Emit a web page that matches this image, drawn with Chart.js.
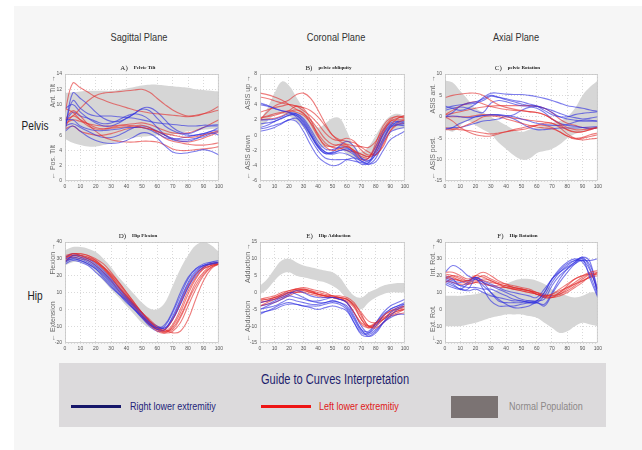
<!DOCTYPE html>
<html>
<head>
<meta charset="utf-8">
<script src="https://cdn.jsdelivr.net/npm/chart.js@4/dist/chart.umd.min.js"></script>
<style>
  html, body { margin: 0; padding: 0; background: #fff; }
  #page { position: relative; width: 642px; height: 450px; overflow: hidden; background: #fff;
          font-family: "Liberation Sans", Arial, sans-serif; }
  #sheet { position: absolute; left: 14px; top: 6px; right: 0; bottom: 0; background: #f6f6f6; }
  .lbl { position: absolute; white-space: nowrap; transform: translate(-50%, -50%) scaleX(0.84); }
  .col { font-size: 11px; color: #333; top: 37px; }
  .row { font-size: 12px; color: #222; }
  canvas { position: absolute; }
  #guide { position: absolute; left: 59px; top: 363px; width: 547px; height: 64px; background: #dcdadc; }
  #guideTitle { position: absolute; left: 335px; top: 379px; font-size: 14px; color: #1e1e6e;
                transform: translate(-50%, -50%) scaleX(0.79); }
  .swatch { position: absolute; height: 3px; }
  .item { position: absolute; top: 406px; font-size: 11.5px; white-space: nowrap;
          transform-origin: 0 50%; transform: translateY(-50%) scaleX(0.78); }
</style>
</head>
<body>
<div id="page">
  <div id="sheet"></div>
  <div class="lbl col" style="left:139px">Sagittal Plane</div>
  <div class="lbl col" style="left:336px">Coronal Plane</div>
  <div class="lbl col" style="left:516px">Axial Plane</div>
  <div class="lbl row" style="left:35px; top:126px">Pelvis</div>
  <div class="lbl row" style="left:35px; top:296px">Hip</div>

  <canvas id="cA"></canvas>
  <canvas id="cB"></canvas>
  <canvas id="cC"></canvas>
  <canvas id="cD"></canvas>
  <canvas id="cE"></canvas>
  <canvas id="cF"></canvas>

  <div id="guide"></div>
  <div id="guideTitle">Guide to Curves Interpretation</div>
  <div class="swatch" style="left:71px; top:405px; width:50px; background:#16166a"></div>
  <div class="item" style="left:130px; color:#23237a">Right lower extremitiy</div>
  <div class="swatch" style="left:261px; top:405px; width:50px; background:#ee1515"></div>
  <div class="item" style="left:319px; color:#e01818">Left lower extremitiy</div>
  <div style="position:absolute; left:451px; top:396px; width:47px; height:22px; background:#7b7373"></div>
  <div class="item" style="left:509px; color:#8c8888">Normal Population</div>
</div>

<script>
// Percent of gait cycle at which every curve is sampled
const xPct = [0, 5, 10, 15, 20, 25, 30, 35, 40, 45, 50, 55, 60, 65, 70, 75, 80, 85, 90, 95, 100];

// ---- A) Pelvic tilt (deg) ----
const tiltNormHigh = [11.5, 11.6, 11.7, 11.8, 11.8, 11.8, 11.8, 11.9, 12.1, 12.3, 12.5, 12.6, 12.6, 12.5, 12.4, 12.3, 12.2, 12.0, 11.9, 11.8, 11.7];
const tiltNormLow  = [5.5, 5.0, 4.7, 4.5, 4.5, 4.7, 4.9, 5.2, 5.5, 5.7, 5.8, 5.9, 6.0, 6.0, 6.1, 6.3, 6.5, 6.6, 6.7, 6.8, 6.9];
const tiltRight = [
  [6.5, 11.5, 10.8, 10.0, 9.0, 8.2, 7.8, 7.8, 8.2, 8.8, 9.4, 9.2, 8.2, 7.2, 6.6, 6.2, 6.0, 6.0, 6.2, 6.5, 7.0],
  [7.0, 10.5, 9.5, 8.8, 8.5, 8.5, 8.5, 8.4, 8.3, 8.2, 8.0, 7.8, 7.6, 7.5, 7.4, 7.3, 7.2, 7.2, 7.3, 7.3, 7.4],
  [9.5, 10.0, 9.0, 8.2, 7.6, 7.2, 7.2, 7.6, 8.2, 8.8, 9.5, 9.6, 9.0, 8.0, 7.0, 6.4, 6.2, 6.5, 7.0, 7.2, 7.2],
  [8.0, 8.0, 7.2, 6.8, 6.6, 6.6, 6.7, 6.8, 7.0, 7.0, 7.0, 6.7, 6.2, 5.7, 5.5, 5.6, 5.8, 6.0, 6.2, 6.5, 6.7],
  [6.5, 7.2, 6.5, 5.8, 5.3, 5.0, 4.9, 5.0, 5.3, 5.8, 6.3, 6.2, 5.6, 4.6, 3.8, 3.6, 3.7, 3.9, 4.1, 3.9, 3.4],
  [7.5, 9.0, 8.5, 8.2, 7.8, 7.5, 7.6, 8.0, 8.5, 8.8, 8.6, 8.0, 7.0, 6.0, 5.4, 5.2, 5.2, 5.5, 6.0, 6.3, 6.0],
  [7.2, 7.5, 7.0, 6.5, 6.0, 5.7, 5.7, 6.0, 6.5, 7.0, 7.2, 7.0, 6.5, 6.0, 5.6, 5.4, 5.4, 5.6, 5.8, 6.2, 6.5]
];
const tiltLeft = [
  [9.0, 12.8, 12.2, 11.6, 11.0, 10.6, 10.2, 9.9, 9.6, 9.3, 9.1, 8.9, 8.8, 8.7, 8.6, 8.5, 8.4, 8.5, 8.8, 9.2, 9.8],
  [8.0, 8.5, 9.5, 10.5, 11.2, 11.5, 11.6, 11.7, 11.8, 11.9, 12.0, 11.6, 10.8, 10.0, 9.3, 8.8, 8.5, 8.6, 8.8, 9.0, 9.3],
  [9.5, 9.0, 8.0, 7.2, 6.8, 6.8, 7.0, 7.2, 7.3, 7.2, 7.0, 6.8, 6.5, 6.2, 6.0, 5.8, 5.7, 5.8, 6.0, 6.3, 6.6],
  [7.0, 8.5, 8.0, 7.5, 7.0, 6.8, 6.9, 7.0, 7.1, 7.2, 7.3, 7.0, 6.3, 5.6, 5.2, 5.0, 4.8, 4.7, 4.7, 4.8, 5.0],
  [8.0, 9.2, 8.5, 7.4, 6.5, 5.8, 5.4, 5.2, 5.1, 5.1, 5.2, 5.2, 5.1, 4.7, 4.2, 4.0, 4.0, 4.1, 4.2, 4.3, 4.5],
  [7.5, 8.0, 7.8, 7.5, 7.3, 7.2, 7.2, 7.3, 7.4, 7.5, 7.6, 7.4, 7.0, 6.6, 6.3, 6.2, 6.3, 6.6, 7.0, 7.5, 8.0],
  [6.8, 7.2, 6.5, 6.2, 6.0, 6.0, 6.2, 6.5, 6.8, 7.0, 7.0, 6.8, 6.5, 6.0, 5.5, 5.2, 5.1, 5.3, 5.6, 6.0, 6.4]
];

// ---- B) Pelvic obliquity (deg) ----
const obliqNormHigh = [2.0, 3.5, 5.5, 7.0, 6.5, 5.0, 3.5, 2.0, 1.0, 1.5, 2.2, 2.2, 0.5, -1.5, -2.2, -1.5, 0.0, 1.5, 2.5, 2.8, 2.5];
const obliqNormLow  = [1.0, 1.8, 2.6, 2.8, 2.5, 1.8, 1.0, -0.3, -1.5, -1.6, -1.5, -1.6, -2.5, -3.0, -3.2, -2.8, -2.0, -0.8, 0.5, 0.8, 1.0];
const obliqRight = [
  [4.2, 3.9, 3.5, 3.2, 3.0, 2.8, 2.0, 0.5, -1.2, -2.2, -2.5, -2.3, -2.5, -3.0, -3.8, -3.6, -2.0, 0.0, 1.2, 1.4, 1.3],
  [1.0, 1.3, 1.8, 2.2, 2.6, 2.6, 1.8, 0.2, -1.5, -2.4, -2.4, -2.0, -2.0, -2.6, -3.4, -3.6, -2.4, -0.4, 1.0, 1.3, 1.2],
  [0.5, 0.7, 1.0, 1.5, 2.0, 1.8, 0.5, -1.3, -2.8, -3.6, -4.0, -3.8, -3.2, -3.0, -3.4, -3.8, -3.5, -2.0, -0.6, 0.0, 0.5],
  [2.0, 2.0, 2.1, 2.4, 2.8, 2.6, 1.6, 0.0, -1.6, -2.4, -2.2, -1.4, -0.8, -1.5, -3.0, -3.4, -1.8, 0.2, 1.4, 1.6, 1.5],
  [0.8, 1.0, 1.3, 1.6, 2.0, 2.2, 1.2, -0.5, -2.0, -3.0, -3.2, -3.2, -3.2, -3.4, -3.6, -3.8, -3.0, -1.0, 0.4, 0.8, 1.0],
  [4.0, 3.8, 3.5, 3.2, 3.0, 2.4, 1.4, 0.0, -1.4, -2.2, -2.3, -2.0, -1.8, -2.2, -3.0, -3.3, -2.6, -0.8, 1.0, 1.8, 1.8],
  [1.5, 1.6, 1.8, 2.2, 2.6, 2.8, 2.2, 0.8, -0.8, -1.8, -1.9, -1.6, -1.6, -2.4, -3.2, -3.0, -1.4, 0.6, 1.6, 1.8, 1.6]
];
const obliqLeft = [
  [5.5, 5.3, 5.0, 4.6, 4.0, 3.4, 2.8, 2.0, 0.8, -0.5, -1.2, -1.3, -1.5, -2.0, -2.8, -3.0, -2.0, 0.2, 1.8, 2.2, 2.5],
  [2.0, 3.0, 3.8, 4.2, 4.6, 5.3, 5.5, 4.8, 3.3, 1.5, 0.0, -0.8, -1.2, -1.4, -1.5, -1.6, -0.8, 0.8, 2.0, 2.5, 2.3],
  [2.2, 2.4, 2.6, 2.9, 3.2, 3.8, 3.5, 2.0, 0.0, -1.5, -2.0, -1.8, -1.5, -2.0, -2.5, -2.8, -1.5, 0.5, 1.8, 2.0, 2.0],
  [5.0, 4.8, 4.5, 4.2, 4.0, 3.8, 3.6, 3.2, 2.4, 1.2, 0.0, -0.6, -0.8, -1.0, -1.6, -2.2, -2.6, -1.2, 0.6, 1.6, 2.0],
  [2.0, 2.1, 2.2, 2.5, 3.0, 3.3, 2.9, 1.5, -0.2, -1.3, -1.5, -1.2, -1.3, -2.2, -3.2, -3.0, -1.0, 1.2, 2.2, 2.4, 2.2],
  [3.0, 3.3, 3.6, 3.8, 4.0, 3.8, 3.2, 2.5, 1.5, 0.3, -0.5, -0.7, -0.4, -0.8, -2.0, -2.6, -2.2, -0.6, 1.2, 2.2, 2.6],
  [2.3, 2.5, 2.8, 3.0, 3.2, 3.0, 2.6, 1.6, 0.2, -1.0, -1.6, -1.7, -2.0, -2.2, -2.5, -2.8, -2.5, -1.5, 0.5, 1.4, 1.6]
];

// ---- C) Pelvic rotation (deg) ----
const rotNormHigh = [8.5, 8.0, 6.0, 4.0, 2.0, 1.0, 0.0, -1.0, -2.0, -3.0, -3.5, -3.0, -2.5, -2.0, -1.5, -1.0, 0.0, 2.0, 5.0, 7.0, 8.5];
const rotNormLow  = [-2.5, -3.5, -2.0, -1.0, -2.0, -3.0, -4.0, -6.0, -7.5, -9.0, -10.0, -9.8, -8.5, -8.0, -7.5, -6.5, -5.0, -4.0, -3.5, -3.0, -2.5];
const rotRight = [
  [2.5, 2.0, 1.5, 2.0, 3.0, 4.5, 5.5, 5.5, 5.3, 5.2, 5.2, 5.0, 4.7, 4.3, 3.8, 3.2, 2.6, 2.3, 2.0, 1.6, 1.3],
  [0.0, 1.0, 2.5, 3.2, 3.5, 4.2, 5.0, 4.6, 4.2, 3.8, 3.5, 3.0, 2.5, 1.5, 0.5, 0.0, 0.0, 0.5, 0.8, 1.0, 1.2],
  [1.5, 2.0, 2.3, 2.0, 1.3, 1.0, 3.2, 3.8, 3.5, 3.0, 2.6, 2.5, 2.5, 2.0, 1.0, 0.0, -0.5, -0.8, -1.0, -1.0, -1.0],
  [-3.0, -2.5, -1.5, -0.8, 0.0, 0.3, 0.4, 0.5, 0.3, 0.0, -0.5, -1.0, -1.5, -1.8, -2.0, -2.0, -1.8, -1.2, -0.8, -0.8, -1.0],
  [0.0, 0.2, 0.0, -0.2, 0.0, 0.3, 0.5, 0.4, 0.2, 0.5, 1.5, 2.2, 2.0, 1.0, -0.5, -1.5, -2.0, -2.2, -2.5, -2.8, -2.5],
  [-2.8, -2.5, -2.5, -2.0, -1.5, -1.0, -0.8, -0.5, 0.0, -0.5, -1.5, -2.5, -3.0, -3.0, -2.8, -2.6, -2.6, -2.6, -2.5, -2.4, -2.3],
  [2.0, 2.5, 2.8, 3.0, 3.2, 3.8, 4.8, 4.5, 4.0, 3.5, 3.0, 2.6, 2.4, 2.0, 1.5, 0.8, 0.2, -0.2, -0.5, -0.3, 0.0]
];
const rotLeft = [
  [4.5, 5.0, 5.3, 5.5, 5.5, 5.0, 3.8, 2.8, 2.2, 1.8, 1.5, 1.2, 1.0, 0.5, -0.5, -1.5, -2.5, -3.0, -3.0, -2.8, -2.5],
  [0.5, 1.5, 2.5, 3.2, 3.5, 3.0, 2.4, 2.0, 1.7, 1.5, 1.4, 1.2, 1.0, 0.5, -0.5, -1.8, -3.0, -3.6, -3.5, -3.0, -2.5],
  [-3.0, -3.0, -2.5, -1.8, -1.0, 0.0, 0.2, 0.0, -0.5, -1.0, -1.5, -2.0, -2.4, -2.6, -2.8, -3.5, -4.5, -5.2, -5.0, -4.6, -4.2],
  [0.0, -1.0, -2.5, -3.5, -4.2, -4.5, -4.5, -4.0, -3.5, -3.2, -3.0, -2.6, -2.0, -1.5, -1.5, -2.5, -4.0, -5.0, -5.4, -5.2, -5.0],
  [0.0, 0.0, 0.0, 0.0, 0.3, 0.5, 0.5, 0.3, 0.0, -0.3, -0.5, -0.8, -1.0, -1.2, -1.5, -2.2, -3.0, -3.5, -3.5, -3.0, -2.5],
  [0.5, 0.8, 1.2, 1.6, 2.0, 2.3, 2.5, 2.6, 2.6, 2.6, 2.6, 2.6, 2.5, 2.0, 1.0, -0.5, -1.5, -2.0, -2.5, -2.6, -2.6],
  [-2.5, -2.8, -3.0, -3.2, -3.5, -3.8, -4.0, -3.8, -3.5, -3.0, -2.6, -2.2, -2.0, -2.0, -2.5, -3.5, -4.5, -5.0, -4.8, -4.2, -3.8]
];

// ---- D) Hip flexion (deg) ----
const flexNormHigh = [35, 37, 37, 36, 34, 30, 25, 19, 14, 9, 4, 0.5, 0, 4, 14, 24, 32, 38, 40, 38, 34];
const flexNormLow  = [26, 28, 28, 26, 22, 17, 12, 7, 2, -3, -8, -11, -12, -10, -2, 8, 17, 24, 27, 27, 26];
const flexRight = [
  [28, 32, 31, 29, 26, 22, 17, 12, 7, 2, -3, -8, -11, -11, -5, 5, 15, 22, 26, 28, 29],
  [30, 31, 30, 28, 25, 21, 16, 11, 6, 1, -4, -8, -12, -10, -2, 8, 18, 24, 27, 28, 28],
  [27, 29, 28, 26, 22, 18, 13, 9, 4, 0, -5, -9, -11, -9, -1, 10, 19, 24, 26, 27, 28],
  [31, 33, 32, 30, 27, 23, 18, 13, 8, 3, -2, -7, -10, -11, -6, 3, 13, 21, 25, 27, 28],
  [29, 30, 29, 27, 24, 20, 15, 10, 5, 0, -4, -9, -12, -12, -6, 3, 13, 20, 25, 27, 27],
  [28, 30, 29, 27, 24, 19, 14, 9, 5, 0, -5, -10, -13, -12, -4, 6, 16, 23, 26, 27, 28]
];
const flexLeft = [
  [32, 33, 33, 32, 30, 27, 22, 16, 10, 4, -2, -7, -11, -13, -12, -5, 5, 14, 21, 25, 27],
  [30, 33, 32, 30, 28, 24, 19, 13, 8, 2, -3, -8, -12, -14, -13, -8, 2, 12, 20, 25, 27],
  [31, 32, 32, 31, 29, 25, 20, 14, 8, 3, -2, -7, -11, -12, -6, 4, 14, 21, 25, 27, 28],
  [29, 31, 30, 29, 26, 22, 17, 11, 6, 1, -4, -9, -13, -14, -10, -2, 9, 18, 24, 26, 27],
  [28, 32, 32, 31, 28, 24, 19, 13, 7, 2, -4, -9, -12, -13, -9, 0, 11, 19, 24, 26, 28],
  [31, 33, 33, 32, 29, 25, 20, 15, 9, 3, -2, -6, -10, -12, -14, -13, -6, 6, 17, 24, 27],
  [30, 32, 31, 30, 28, 25, 21, 16, 10, 4, -2, -7, -11, -13, -11, -4, 6, 16, 22, 26, 27]
];

// ---- E) Hip adduction (deg) ----
const adduNormHigh = [2.0, 4.0, 7.0, 9.5, 10.0, 9.0, 8.0, 7.5, 7.0, 6.5, 6.0, 4.5, 1.5, -1.0, -1.5, 0.0, 1.0, 2.0, 2.5, 2.8, 2.8];
const adduNormLow  = [-0.5, 1.0, 3.5, 5.5, 6.0, 5.0, 4.5, 4.0, 3.5, 3.0, 2.0, 0.5, -2.0, -4.0, -5.0, -3.0, -1.5, -0.5, 0.0, 0.0, 0.0];
const adduRight = [
  [-5, -4, -3, -2, -1, -1.5, -2, -2.5, -2.5, -2, -1.5, -2, -3, -7, -11, -13, -12, -9, -6, -4.5, -3.5],
  [-6, -5.5, -4.5, -3.5, -3, -3.5, -4, -4.5, -5, -4.5, -4, -4.5, -5.5, -9, -12.5, -13, -11.5, -9, -7, -5, -4],
  [-4, -3.5, -2.5, -1.5, -0.5, 0.5, 0, -1, -1.5, -1.5, -1.5, -2, -3, -6, -10, -12, -10, -7, -5, -4, -3],
  [-3, -2.5, -2, -1, 0, -0.5, -1.5, -2.5, -3, -3, -2.5, -3, -4.5, -8, -11.5, -12, -9, -6, -4, -3, -2],
  [-6.5, -5.5, -5, -4, -3.5, -3.5, -4, -4, -4, -3.5, -3, -3.5, -5, -9, -12, -12.5, -11, -9, -7.5, -6.5, -6.5],
  [-5, -4.5, -4, -3, -2, -2.5, -3, -3.5, -3.5, -3, -2.5, -3, -4, -7.5, -11, -11.5, -9, -6.5, -5, -4, -3.5]
];
const adduLeft = [
  [-2, -1.5, -1, 0, 0.5, 1, 0.8, 0.3, -0.5, -1, -1, -1.5, -3, -6, -9.5, -10.5, -9, -7, -5.5, -4.5, -4],
  [-4, -3, -2, -1, 0, 1, 1.5, 1, 0.5, 0, -1, -1.5, -2, -4, -7, -10, -10.5, -9, -7, -6, -5],
  [-2, -2, -1.5, -0.5, 0.5, 1, 1, 0.5, 0, -0.5, -1, -1, -1.5, -3, -6.5, -10, -10, -8, -6, -5, -4],
  [-4, -3.5, -3, -2, -1, 0, 0.5, 0, -0.5, -1, -1.5, -2, -3, -6, -9, -10, -9, -7.5, -6.5, -5.5, -5],
  [-3, -2.5, -2, -1.5, -0.5, 0.5, 1, 0.5, -0.5, -1, -1.5, -2, -2.5, -4.5, -8, -10.5, -9.5, -7, -5.5, -5, -4.5],
  [-3, -2.5, -1.5, -1, 0, 0.5, 0.5, 0, -0.5, -1, -1.5, -1.5, -2, -3.5, -6, -8.5, -9, -8, -7, -6.5, -6],
  [-2.5, -2, -1.5, -0.5, 0, 0, 0, -0.5, -1, -1.5, -1.5, -1.5, -2, -4, -8, -10, -9.5, -8, -6.5, -5.5, -5]
];

// ---- F) Hip rotation (deg) ----
const hiprNormHigh = [8, 8, 8, 8.5, 9, 10, 10, 12, 15, 17, 18, 18, 17, 15, 12, 10, 8, 7, 8, 10, 10];
const hiprNormLow  = [-10, -10, -10, -9, -8, -6.5, -5, -4, -3, -3, -3, -4, -5, -8, -11, -14, -13, -10, -8, -9, -10];
const hiprRight = [
  [22, 26, 24, 20, 18, 16, 14, 12, 10, 8, 6, 5, 5, 10, 18, 24, 28, 30, 28, 20, 8],
  [18, 16, 14, 13, 13, 12, 12, 10, 8, 6, 5, 4, 4, 8, 16, 22, 26, 29, 30, 18, 7],
  [17, 15, 12, 12, 18, 12, 5, 2, 2, 2, 3, 4, 5, 10, 18, 22, 25, 28, 31, 24, 10],
  [20, 18, 14, 16, 19, 17, 15, 13, 11, 10, 9, 8, 7, 12, 18, 23, 27, 29, 29, 29, 30],
  [15, 13, 12, 15, 18, 14, 10, 6, 3, 1, 1, 2, 4, 2, 9, 16, 22, 27, 30, 26, 12],
  [19, 17, 16, 17, 19, 16, 10, 5, 4, 4, 4, 5, 5, 6, 14, 20, 24, 27, 29, 23, 10],
  [16, 14, 12, 11, 12, 10, 8, 7, 6, 5, 5, 4, 4, 3, 10, 18, 24, 28, 31, 28, 8]
];
const hiprLeft = [
  [22, 22, 20, 18, 20, 19, 17, 15, 14, 13, 12, 11, 9, 8, 9, 11, 13, 15, 18, 21, 22],
  [18, 20, 19, 17, 20, 22, 20, 17, 15, 13, 12, 11, 9, 8, 9, 12, 15, 18, 20, 22, 23],
  [20, 19, 17, 16, 17, 17, 16, 15, 14, 13, 12, 11, 10, 8, 7, 8, 10, 13, 16, 20, 21],
  [16, 18, 17, 15, 16, 18, 17, 15, 13, 12, 11, 10, 9, 7, 7, 9, 12, 15, 17, 19, 22],
  [21, 20, 18, 17, 18, 20, 18, 16, 15, 14, 13, 12, 10, 8, 8, 10, 14, 18, 20, 21, 21],
  [19, 18, 17, 17, 19, 16, 14, 13, 13, 12, 12, 11, 10, 9, 8, 9, 11, 14, 17, 19, 20],
  [17, 16, 15, 15, 16, 15, 14, 14, 13, 12, 11, 10, 9, 7, 7, 10, 13, 16, 19, 21, 12]
];

const RIGHT_COLOR = 'rgba(45, 45, 225, 0.62)';
const LEFT_COLOR = 'rgba(228, 45, 45, 0.62)';
const NORM_COLOR = '#d6d6d6';

// Margins around each plotting area inside its canvas
const PAD = { left: 32, top: 14, right: 6, bottom: 16 };

function points(values) {
  return values.map((v, i) => ({ x: xPct[i], y: v }));
}

// Draws the white plot background, the frame, the panel heading and the split y-axis caption
const panelDecor = {
  id: 'panelDecor',
  beforeDraw(chart) {
    const a = chart.chartArea, ctx = chart.ctx;
    ctx.save();
    ctx.fillStyle = '#ffffff';
    ctx.fillRect(a.left, a.top, a.right - a.left, a.bottom - a.top);
    ctx.restore();
  },
  afterDraw(chart, args, opts) {
    const a = chart.chartArea, ctx = chart.ctx;
    ctx.save();
    ctx.strokeStyle = '#c4c4c4';
    ctx.lineWidth = 0.8;
    ctx.strokeRect(a.left + 0.5, a.top + 0.5, a.right - a.left - 1, a.bottom - a.top - 1);

    // heading: letter in plain serif, name in small bold serif
    const cx = (a.left + a.right) / 2 - 4;
    const y = a.top - 6;
    ctx.fillStyle = '#222';
    ctx.textBaseline = 'middle';
    ctx.font = '7px "Liberation Serif", serif';
    const w1 = ctx.measureText(opts.letter).width;
    ctx.font = 'bold 5px "Liberation Serif", serif';
    const w2 = ctx.measureText(opts.name).width;
    const gap = 6;
    const x0 = cx - (w1 + gap + w2) / 2;
    ctx.font = '7px "Liberation Serif", serif';
    ctx.textAlign = 'left';
    ctx.fillText(opts.letter, x0, y);
    ctx.font = 'bold 5px "Liberation Serif", serif';
    ctx.fillText(opts.name, x0 + w1 + gap, y);

    // rotated y captions
    ctx.fillStyle = '#6a6a6a';
    ctx.font = '7px "Liberation Sans", Arial, sans-serif';
    ctx.translate(a.left - 12, 0);
    ctx.rotate(-Math.PI / 2);
    ctx.textBaseline = 'middle';
    ctx.textAlign = 'right';
    ctx.fillText(opts.up, -(a.top + 1), 0);
    ctx.textAlign = 'left';
    ctx.fillText(opts.down, -(a.bottom - 2), 0);
    ctx.restore();
  }
};

function drawPanel(id, area, yRange, text, normLow, normHigh, right, left) {
  const canvas = document.getElementById(id);
  const w = (area.r + PAD.right) - (area.l - PAD.left);
  const h = (area.b + PAD.bottom) - (area.t - PAD.top);
  canvas.width = w;
  canvas.height = h;
  canvas.style.left = (area.l - PAD.left) + 'px';
  canvas.style.top = (area.t - PAD.top) + 'px';
  canvas.style.width = w + 'px';
  canvas.style.height = h + 'px';

  const datasets = [];
  const n = Math.max(right.length, left.length);
  for (let i = 0; i < n; i++) {
    if (i < right.length) datasets.push({ data: points(right[i]), borderColor: RIGHT_COLOR, order: 1 });
    if (i < left.length) datasets.push({ data: points(left[i]), borderColor: LEFT_COLOR, order: 1 });
  }
  datasets.push({ data: points(normLow), borderWidth: 0, borderColor: 'rgba(0,0,0,0)', fill: false, order: 5 });
  datasets.push({ data: points(normHigh), borderWidth: 0, borderColor: 'rgba(0,0,0,0)', backgroundColor: NORM_COLOR, fill: '-1', order: 5 });

  const tickFont = { size: 5, family: '"Liberation Sans", Arial, sans-serif' };
  new Chart(canvas, {
    type: 'line',
    data: { datasets },
    options: {
      responsive: false,
      animation: false,
      devicePixelRatio: 1,
      layout: { padding: { top: PAD.top, right: PAD.right, left: 0, bottom: 0 } },
      elements: {
        line: { tension: 0.4, borderWidth: 1.1, fill: false },
        point: { radius: 0 }
      },
      plugins: {
        legend: { display: false },
        tooltip: { enabled: false },
        panelDecor: text
      },
      scales: {
        x: {
          type: 'linear', min: 0, max: 100,
          ticks: { stepSize: 10, font: tickFont, color: '#555', padding: 3, maxRotation: 0, autoSkip: false },
          grid: { color: '#dadada', drawTicks: false },
          border: { display: false, dash: [1, 2] },
          afterFit(scale) { scale.height = PAD.bottom; }
        },
        y: {
          type: 'linear', min: yRange[0], max: yRange[1],
          ticks: { stepSize: yRange[2], font: tickFont, color: '#555', padding: 3, autoSkip: false },
          grid: { color: '#dadada', drawTicks: false },
          border: { display: false, dash: [1, 2] },
          afterFit(scale) { scale.width = PAD.left; }
        }
      }
    },
    plugins: [panelDecor]
  });
}

drawPanel('cA', { l: 65, t: 74, r: 220, b: 181 }, [0, 14, 2],
  { letter: 'A)', name: 'Pelvic Tilt', up: 'Ant. Tilt \u2192', down: '\u2190 Pos. Tilt' },
  tiltNormLow, tiltNormHigh, tiltRight, tiltLeft);
drawPanel('cB', { l: 260, t: 74, r: 406, b: 181 }, [-6, 8, 2],
  { letter: 'B)', name: 'pelvic obliquity', up: 'ASIS up \u2192', down: '\u2190 ASIS down' },
  obliqNormLow, obliqNormHigh, obliqRight, obliqLeft);
drawPanel('cC', { l: 445, t: 74, r: 599, b: 181 }, [-15, 10, 5],
  { letter: 'C)', name: 'pelvic Rotation', up: 'ASIS ant. \u2192', down: '\u2190 ASIS post.' },
  rotNormLow, rotNormHigh, rotRight, rotLeft);
drawPanel('cD', { l: 65, t: 242, r: 220, b: 343 }, [-20, 40, 10],
  { letter: 'D)', name: 'Hip Flexion', up: 'Flexion \u2192', down: '\u2190 Extension' },
  flexNormLow, flexNormHigh, flexRight, flexLeft);
drawPanel('cE', { l: 260, t: 242, r: 406, b: 343 }, [-15, 15, 5],
  { letter: 'E)', name: 'Hip Adduction', up: 'Adduction \u2192', down: '\u2190 Abduction' },
  adduNormLow, adduNormHigh, adduRight, adduLeft);
drawPanel('cF', { l: 445, t: 242, r: 599, b: 343 }, [-20, 40, 10],
  { letter: 'F)', name: 'Hip Rotation', up: 'Int. Rot. \u2192', down: '\u2190 Ext. Rot.' },
  hiprNormLow, hiprNormHigh, hiprRight, hiprLeft);
</script>
</body>
</html>
